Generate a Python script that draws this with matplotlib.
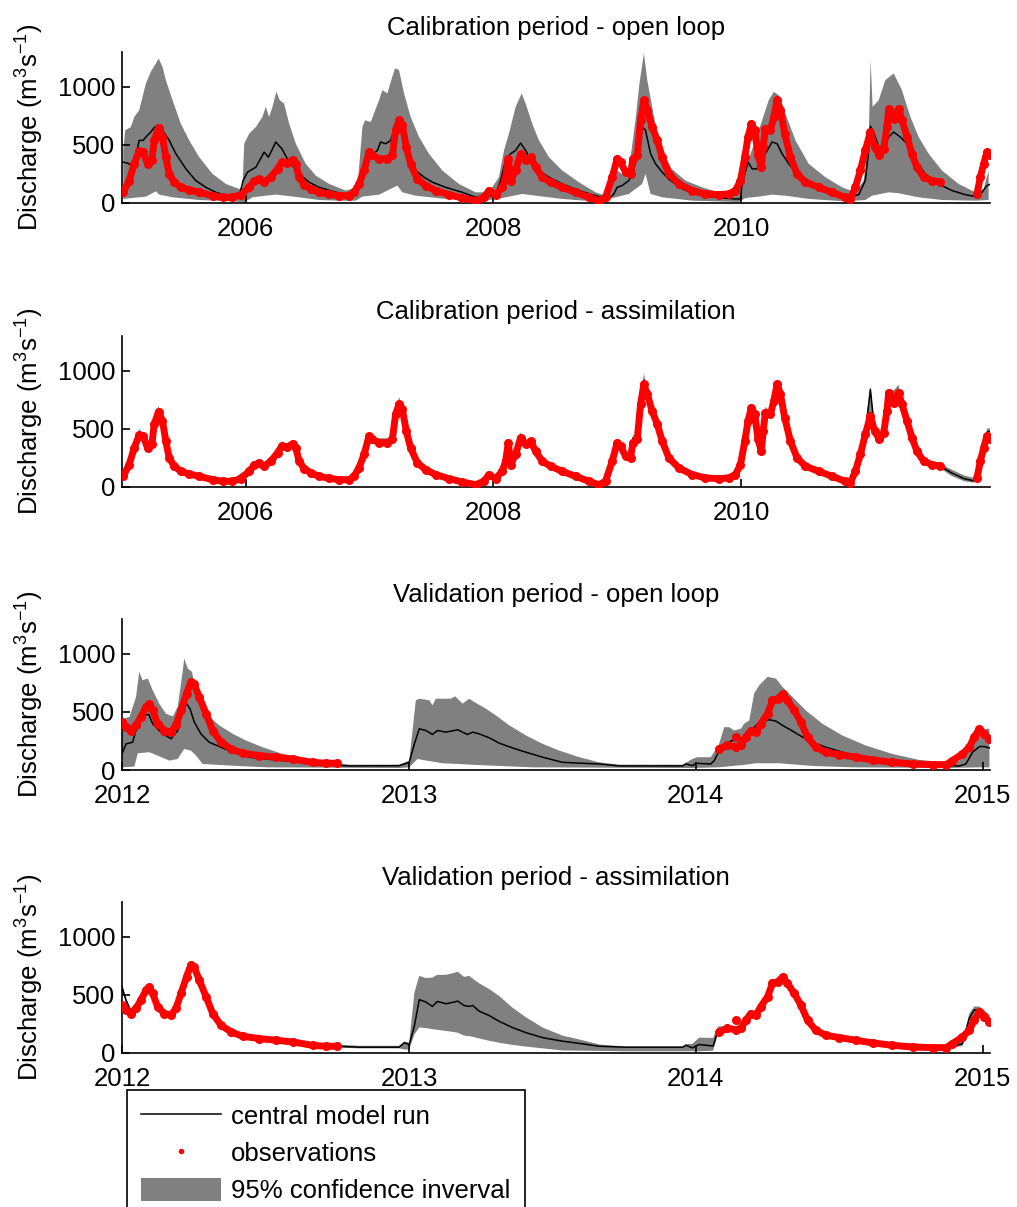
import numpy as np
import matplotlib
matplotlib.use('Agg')
import matplotlib.pyplot as plt
from matplotlib.lines import Line2D
from matplotlib.patches import Patch

plt.rcParams['font.family'] = ['Liberation Sans', 'DejaVu Sans']
plt.rcParams['mathtext.fontset'] = 'custom'
plt.rcParams['mathtext.rm'] = 'Liberation Sans'
plt.rcParams['mathtext.it'] = 'Liberation Sans:italic'

# ---------------- calibration period (2005-2011) ----------------
# observations, shared time axis with the assimilation run (nan = no data)
cal_t = [2005.010, 2005.058, 2005.099, 2005.139, 2005.171, 2005.206, 2005.241, 2005.260, 2005.295, 2005.327,
         2005.354, 2005.381, 2005.422, 2005.475, 2005.543, 2005.623, 2005.731, 2005.812, 2005.892, 2005.960,
         2006.027, 2006.067, 2006.108, 2006.148, 2006.202, 2006.256, 2006.291, 2006.336, 2006.377, 2006.404,
         2006.430, 2006.471, 2006.525, 2006.592, 2006.673, 2006.753, 2006.834, 2006.874, 2006.914, 2006.955,
         2006.995, 2007.022, 2007.076, 2007.143, 2007.183, 2007.210, 2007.237, 2007.264, 2007.296, 2007.331,
         2007.385, 2007.452, 2007.533, 2007.641, 2007.748, 2007.856, 2007.923, 2007.964, 2008.017, 2008.071,
         2008.098, 2008.120, 2008.139, 2008.179, 2008.219, 2008.260, 2008.300, 2008.340, 2008.394, 2008.461,
         2008.555, 2008.663, 2008.771, 2008.851, 2008.905, 2008.959, 2008.999, 2009.026, 2009.067, 2009.107,
         2009.126, 2009.161, 2009.188, 2009.215, 2009.242, 2009.282, 2009.323, 2009.363, 2009.416, 2009.497,
         2009.605, 2009.712, 2009.820, 2009.900, 2009.954, 2009.995, 2010.030, 2010.056, 2010.083, 2010.110,
         2010.137, 2010.164, 2010.178, 2010.196, 2010.237, 2010.264, 2010.291, 2010.318, 2010.352, 2010.398,
         2010.452, 2010.519, 2010.627, 2010.734, 2010.842, 2010.882, 2010.923, 2010.963, 2011.003, 2011.044,
         2011.079, 2011.117, 2011.151, 2011.178, 2011.192, 2011.232, 2011.272, 2011.299, 2011.340, 2011.380,
         2011.420, 2011.474, 2011.542, 2011.609, 2011.700, 2011.800, 2011.870, 2011.905, 2011.932, 2011.959,
         2011.985, 2012.008]
nan = np.nan
cal_obs = [92, 193, 337, 447, 438, 337, 366, 539, 649, 568,
           395, 251, 179, 135, 112, 92, 63, 49, 49, 72,
           135, 187, 208, 179, 222, 294, 352, 343, 372, 337,
           222, 159, 121, 92, 75, 63, 63, 92, 164, 280,
           438, 409, 381, 381, 409, 626, 712, 669, 481, 337,
           208, 150, 107, 72, 43, 20, 49, 107, 72, 135,
           222, 381, 193, 280, 424, 366, 395, 308, 222, 179,
           135, 92, 49, 20, 49, 222, 381, 352, 265, 251,
           381, 409, 712, 885, 799, 654, 539, 395, 251, 164,
           107, 78, 72, 78, 107, 193, 395, 568, 683, 626,
           409, 308, 481, 640, 626, 741, 885, 799, 597, 395,
           251, 179, 135, 92, 49, 35, 135, 280, 453, 611,
           481, 409, 467, 654, 813, 726, 813, 712, 568, 424,
           308, 222, 193, 179, nan, nan, nan, 78, 222, 337,
           438, 409]
cal_da_mid = [110, 193, 337, 447, 438, 337, 366, 539, 660, 568,
              395, 251, 179, 135, 112, 92, 63, 49, 49, 80,
              135, 190, 208, 179, 222, 294, 360, 343, 375, 337,
              222, 159, 121, 92, 75, 63, 63, 100, 180, 280,
              438, 409, 390, 390, 409, 626, 720, 669, 481, 337,
              208, 150, 107, 72, 43, 20, 49, 120, 72, 150,
              222, 381, 193, 280, 430, 366, 395, 308, 222, 179,
              135, 92, 49, 20, 49, 222, 390, 352, 265, 251,
              420, 409, 712, 920, 799, 654, 539, 395, 251, 164,
              107, 78, 72, 78, 107, 250, 395, 568, 683, 626,
              409, 308, 481, 650, 626, 741, 885, 799, 597, 395,
              251, 179, 135, 92, 49, 35, 135, 300, 470, 840,
              481, 409, 467, 654, 813, 760, 813, 712, 568, 424,
              308, 222, 193, 179, 121, 72, 55, 60, 222, 337,
              470, 480]
cal_da_hi = [150, 210, 355, 500, 455, 355, 385, 560, 700, 590,
             415, 270, 195, 150, 127, 107, 78, 62, 62, 120,
             150, 215, 225, 195, 240, 312, 395, 360, 400, 355,
             240, 175, 136, 107, 90, 78, 78, 125, 215, 300,
             460, 428, 420, 420, 430, 650, 775, 690, 500, 355,
             225, 165, 122, 87, 56, 32, 62, 140, 87, 175,
             240, 400, 210, 300, 470, 385, 415, 325, 240, 195,
             150, 107, 62, 32, 62, 240, 420, 370, 285, 270,
             450, 430, 735, 980, 820, 675, 560, 415, 270, 180,
             122, 93, 87, 93, 122, 260, 415, 590, 705, 648,
             430, 325, 500, 690, 648, 765, 905, 820, 618, 415,
             270, 195, 150, 107, 62, 48, 150, 330, 500, 870,
             500, 428, 485, 675, 840, 830, 880, 735, 590, 445,
             325, 240, 210, 200, 150, 100, 80, 85, 240, 355,
             500, 510]
cal_da_lo = [80, 180, 320, 430, 420, 320, 350, 520, 630, 550,
             380, 235, 165, 120, 98, 78, 50, 38, 38, 62,
             120, 175, 192, 165, 205, 278, 340, 328, 355, 320,
             205, 145, 107, 78, 62, 50, 50, 80, 150, 262,
             420, 392, 370, 370, 392, 605, 700, 650, 462, 320,
             192, 136, 94, 60, 32, 10, 38, 95, 60, 125,
             205, 362, 178, 262, 405, 350, 378, 292, 205, 165,
             120, 78, 38, 10, 38, 205, 365, 335, 248, 235,
             365, 392, 690, 870, 780, 635, 520, 378, 235, 150,
             94, 65, 60, 65, 94, 180, 378, 550, 665, 608,
             392, 292, 462, 625, 608, 720, 865, 780, 578, 378,
             235, 165, 120, 78, 38, 25, 120, 262, 435, 600,
             462, 392, 450, 635, 795, 705, 795, 690, 550, 405,
             292, 205, 178, 160, 95, 50, 38, 45, 205, 320,
             420, 400]

# open loop run, central line and 95% band
cal_ol_mid_t = [2005.010, 2005.045, 2005.080, 2005.112, 2005.139, 2005.171, 2005.193, 2005.233, 2005.260, 2005.287,
                2005.327, 2005.381, 2005.435, 2005.516, 2005.596, 2005.677, 2005.758, 2005.839, 2005.950, 2005.978,
                2006.013, 2006.081, 2006.148, 2006.183, 2006.242, 2006.291, 2006.350, 2006.430, 2006.511, 2006.592,
                2006.700, 2006.834, 2006.901, 2006.942, 2006.968, 2007.009, 2007.063, 2007.089, 2007.130, 2007.170,
                2007.197, 2007.224, 2007.251, 2007.278, 2007.318, 2007.372, 2007.439, 2007.507, 2007.614, 2007.748,
                2007.856, 2007.964, 2008.017, 2008.058, 2008.098, 2008.139, 2008.179, 2008.219, 2008.260, 2008.313,
                2008.367, 2008.448, 2008.555, 2008.690, 2008.825, 2008.932, 2008.972, 2008.999, 2009.039, 2009.093,
                2009.134, 2009.174, 2009.201, 2009.228, 2009.269, 2009.309, 2009.363, 2009.416, 2009.524, 2009.631,
                2009.739, 2009.847, 2009.954, 2009.995, 2010.008, 2010.056, 2010.089, 2010.129, 2010.156, 2010.196,
                2010.250, 2010.291, 2010.331, 2010.385, 2010.452, 2010.546, 2010.681, 2010.815, 2010.896, 2010.950,
                2011.003, 2011.030, 2011.044, 2011.071, 2011.111, 2011.151, 2011.192, 2011.232, 2011.286, 2011.340,
                2011.407, 2011.488, 2011.595, 2011.703, 2011.810, 2011.891, 2011.945, 2011.985, 2012.007]
cal_ol_mid = [352, 343, 323, 409, 539, 539, 568, 611, 649, 669,
              626, 539, 424, 294, 193, 135, 92, 63, 70, 193,
              265, 308, 438, 395, 525, 467, 352, 251, 179, 135,
              101, 63, 78, 251, 395, 409, 453, 525, 510, 539,
              626, 712, 669, 481, 366, 280, 222, 179, 135, 92,
              49, 55, 78, 193, 366, 424, 453, 516, 453, 337,
              280, 222, 164, 107, 63, 35, 78, 135, 150, 193,
              280, 539, 654, 626, 424, 337, 265, 205, 121, 78,
              55, 43, 35, 35, 164, 352, 294, 294, 381, 424,
              525, 510, 424, 337, 251, 179, 121, 78, 55, 72,
              193, 453, 660, 611, 481, 481, 568, 611, 568, 510,
              366, 251, 164, 107, 72, 55, 92, 150, 159]
cal_ol_hi_t = [2005.010, 2005.026, 2005.072, 2005.099, 2005.139, 2005.193, 2005.233, 2005.274, 2005.295, 2005.327,
               2005.354, 2005.408, 2005.475, 2005.543, 2005.623, 2005.731, 2005.839, 2005.946, 2005.973, 2005.987,
               2006.027, 2006.081, 2006.134, 2006.161, 2006.188, 2006.215, 2006.247, 2006.274, 2006.309, 2006.350,
               2006.404, 2006.484, 2006.565, 2006.673, 2006.807, 2006.901, 2006.942, 2006.963, 2007.009, 2007.076,
               2007.103, 2007.143, 2007.183, 2007.205, 2007.237, 2007.278, 2007.331, 2007.399, 2007.479, 2007.587,
               2007.721, 2007.856, 2007.937, 2007.990, 2008.044, 2008.085, 2008.125, 2008.179, 2008.228, 2008.260,
               2008.313, 2008.367, 2008.448, 2008.555, 2008.690, 2008.825, 2008.905, 2008.959, 2008.999, 2009.039,
               2009.093, 2009.147, 2009.179, 2009.215, 2009.242, 2009.282, 2009.336, 2009.400, 2009.443, 2009.551,
               2009.685, 2009.820, 2009.954, 2010.003, 2010.056, 2010.116, 2010.170, 2010.223, 2010.264, 2010.304,
               2010.358, 2010.439, 2010.546, 2010.681, 2010.815, 2010.923, 2010.990, 2011.030, 2011.046, 2011.062,
               2011.111, 2011.165, 2011.232, 2011.299, 2011.367, 2011.434, 2011.515, 2011.622, 2011.757, 2011.891,
               2011.959, 2011.999]
cal_ol_hi = [453, 626, 654, 741, 799, 1029, 1130, 1202, 1245, 1173,
             1058, 885, 683, 539, 395, 251, 164, 121, 135, 510,
             597, 654, 741, 827, 741, 827, 957, 885, 856, 683,
             510, 337, 236, 164, 107, 135, 654, 712, 698, 885,
             971, 943, 1087, 1159, 1145, 943, 741, 568, 424, 280,
             164, 92, 92, 135, 222, 453, 597, 827, 943, 856,
             683, 539, 395, 280, 179, 92, 63, 135, 280, 251,
             280, 712, 1029, 1289, 1058, 827, 520, 370, 290, 193,
             135, 92, 63, 308, 366, 539, 712, 885, 957, 928,
             770, 539, 337, 222, 135, 92, 193, 539, 1231, 827,
             885, 1058, 1116, 971, 741, 568, 424, 280, 164, 92,
             121, 280]
cal_ol_lo_t = [2005.010, 2005.193, 2005.274, 2005.300, 2005.408, 2005.623, 2005.892, 2005.987, 2006.054, 2006.161,
               2006.242, 2006.323, 2006.430, 2006.592, 2006.753, 2006.888, 2006.942, 2007.076, 2007.224, 2007.264,
               2007.372, 2007.614, 2007.883, 2008.071, 2008.233, 2008.340, 2008.555, 2008.825, 2008.986, 2009.093,
               2009.201, 2009.228, 2009.269, 2009.363, 2009.605, 2009.982, 2010.035, 2010.143, 2010.250, 2010.358,
               2010.546, 2010.842, 2011.003, 2011.057, 2011.192, 2011.272, 2011.434, 2011.622, 2011.891, 2011.999]
cal_ol_lo = [35, 55, 101, 72, 49, 26, 14, 6, 49, 63,
             72, 63, 49, 26, 20, 20, 55, 72, 150, 92,
             63, 35, 14, 43, 78, 63, 35, 12, 49, 78,
             164, 251, 78, 49, 20, 9, 43, 55, 72, 63,
             35, 14, 26, 63, 92, 84, 49, 26, 20, 26]

# ---------------- validation period (2012-2014) ----------------
val_obs_t = [2012.000, 2012.014, 2012.031, 2012.049, 2012.066, 2012.084, 2012.095, 2012.107, 2012.124, 2012.148,
             2012.171, 2012.188, 2012.206, 2012.225, 2012.240, 2012.252, 2012.269, 2012.293, 2012.316, 2012.345,
             2012.380, 2012.420, 2012.479, 2012.537, 2012.595, 2012.664, 2012.711, 2012.751, 2013.500, 2014.081,
             2014.110, 2014.139, 2014.157, 2014.174, 2014.192, 2014.209, 2014.226, 2014.250, 2014.267, 2014.285,
             2014.302, 2014.319, 2014.343, 2014.366, 2014.389, 2014.418, 2014.453, 2014.500, 2014.557, 2014.616,
             2014.685, 2014.755, 2014.825, 2014.872, 2014.894, 2014.929, 2014.953, 2014.970, 2014.988, 2015.005,
             2015.023]
val_obs = [412, 369, 340, 384, 456, 542, 565, 513, 398, 340,
           326, 384, 513, 658, 758, 738, 629, 485, 340, 239,
           182, 144, 124, 110, 95, 66, 58, 58, nan, 182,
           211, 202, 211, 283, 340, 326, 398, 485, 600, 614,
           652, 600, 513, 412, 283, 196, 153, 133, 110, 87,
           66, 52, 46, 46, 81, 138, 196, 283, 355, 311,
           268]
val_obs_single_t = [2014.141]
val_obs_single = [283]

val_ol_mid_t = [2012.000, 2012.014, 2012.037, 2012.055, 2012.066, 2012.078, 2012.093, 2012.107, 2012.130, 2012.153,
                2012.171, 2012.194, 2012.211, 2012.225, 2012.237, 2012.252, 2012.275, 2012.304, 2012.339, 2012.386,
                2012.444, 2012.502, 2012.560, 2012.641, 2012.711, 2012.792, 2012.966, 2013.001, 2013.019, 2013.036,
                2013.059, 2013.082, 2013.099, 2013.129, 2013.158, 2013.170, 2013.187, 2013.204, 2013.222, 2013.245,
                2013.280, 2013.315, 2013.361, 2013.408, 2013.466, 2013.535, 2013.605, 2013.663, 2013.733, 2013.954,
                2013.965, 2013.988, 2014.000, 2014.052, 2014.064, 2014.081, 2014.099, 2014.128, 2014.157, 2014.186,
                2014.209, 2014.232, 2014.255, 2014.279, 2014.302, 2014.337, 2014.372, 2014.407, 2014.453, 2014.523,
                2014.592, 2014.662, 2014.755, 2014.872, 2014.918, 2014.941, 2014.964, 2014.988, 2015.005, 2015.023]
val_ol_mid = [138, 225, 239, 398, 499, 470, 479, 398, 340, 297,
              268, 340, 513, 571, 528, 412, 311, 239, 202, 153,
              110, 95, 81, 66, 46, 35, 37, 66, 225, 355,
              340, 306, 340, 326, 340, 346, 326, 306, 326, 311,
              277, 231, 190, 153, 110, 66, 58, 52, 35, 35,
              52, 37, 58, 52, 81, 167, 225, 254, 268, 311,
              384, 412, 433, 421, 384, 335, 283, 239, 196, 144,
              110, 81, 52, 37, 35, 52, 153, 202, 202, 190]
val_ol_hi_t = [2012.000, 2012.026, 2012.049, 2012.060, 2012.072, 2012.090, 2012.107, 2012.130, 2012.153, 2012.177,
               2012.194, 2012.209, 2012.217, 2012.229, 2012.244, 2012.258, 2012.281, 2012.304, 2012.339, 2012.386,
               2012.432, 2012.490, 2012.560, 2012.641, 2012.734, 2012.792, 2012.966, 2013.001, 2013.024, 2013.036,
               2013.071, 2013.082, 2013.094, 2013.146, 2013.161, 2013.187, 2013.210, 2013.228, 2013.268, 2013.303,
               2013.350, 2013.408, 2013.466, 2013.524, 2013.594, 2013.663, 2013.733, 2013.954, 2013.988, 2014.005,
               2014.052, 2014.081, 2014.099, 2014.116, 2014.133, 2014.157, 2014.168, 2014.186, 2014.203, 2014.221,
               2014.250, 2014.279, 2014.302, 2014.337, 2014.383, 2014.441, 2014.511, 2014.592, 2014.685, 2014.778,
               2014.872, 2014.918, 2014.953, 2014.976, 2015.023]
val_ol_hi = [441, 456, 629, 845, 773, 787, 686, 571, 485, 461,
             542, 802, 960, 874, 845, 658, 542, 461, 384, 311,
             254, 196, 138, 95, 66, 46, 46, 81, 600, 614,
             600, 557, 614, 614, 634, 571, 614, 585, 528, 470,
             384, 297, 225, 167, 110, 66, 46, 46, 95, 110,
             110, 225, 369, 369, 340, 355, 398, 427, 658, 730,
             802, 787, 715, 629, 513, 398, 297, 211, 138, 87,
             66, 81, 225, 355, 355]
val_ol_lo_t = [2012.000, 2012.043, 2012.055, 2012.095, 2012.124, 2012.165, 2012.194, 2012.217, 2012.240, 2012.258,
               2012.281, 2012.386, 2012.502, 2012.966, 2013.001, 2013.030, 2013.047, 2013.117, 2013.292, 2013.431,
               2013.988, 2014.081, 2014.174, 2014.209, 2014.290, 2014.407, 2014.546, 2014.872, 2014.988, 2015.023]
val_ol_lo = [23, 29, 144, 153, 124, 81, 95, 182, 167, 124,
             52, 37, 23, 17, 23, 95, 87, 58, 37, 23,
             17, 23, 46, 58, 58, 35, 23, 17, 23, 23]

# assimilation run: central line and band on one time axis
val_da_t = [2012.000, 2012.014, 2012.031, 2012.049, 2012.066, 2012.084, 2012.095, 2012.107, 2012.124, 2012.148,
            2012.171, 2012.188, 2012.206, 2012.225, 2012.240, 2012.252, 2012.269, 2012.293, 2012.316, 2012.345,
            2012.380, 2012.420, 2012.479, 2012.537, 2012.595, 2012.664, 2012.711, 2012.751, 2012.827, 2012.966,
            2012.984, 2013.001, 2013.019, 2013.036, 2013.059, 2013.082, 2013.099, 2013.129, 2013.158, 2013.170,
            2013.192, 2013.210, 2013.222, 2013.245, 2013.280, 2013.315, 2013.361, 2013.408, 2013.466, 2013.535,
            2013.605, 2013.663, 2013.756, 2013.954, 2013.965, 2013.988, 2014.011, 2014.060, 2014.078, 2014.110,
            2014.139, 2014.157, 2014.174, 2014.192, 2014.209, 2014.226, 2014.250, 2014.267, 2014.285, 2014.302,
            2014.319, 2014.343, 2014.366, 2014.389, 2014.418, 2014.453, 2014.500, 2014.557, 2014.616, 2014.685,
            2014.755, 2014.825, 2014.872, 2014.894, 2014.929, 2014.953, 2014.970, 2014.988, 2015.005, 2015.023]
val_da_mid = [570, 453, 360, 400, 470, 542, 565, 513, 398, 340,
              326, 384, 513, 680, 740, 720, 629, 485, 340, 239,
              182, 144, 124, 110, 95, 66, 58, 58, 50, 50,
              88, 73, 234, 459, 439, 401, 444, 424, 439, 447,
              409, 401, 409, 360, 322, 272, 219, 175, 132, 102,
              79, 58, 50, 50, 67, 44, 73, 60, 200, 211,
              202, 211, 283, 340, 326, 398, 485, 600, 614, 640,
              600, 513, 412, 283, 196, 153, 133, 110, 87, 66,
              52, 46, 46, 60, 80, 300, 370, 375, 340, 300]
val_da_hi = [590, 475, 380, 420, 490, 560, 585, 533, 418, 358,
             345, 403, 535, 700, 760, 740, 650, 505, 358, 256,
             198, 160, 140, 125, 110, 80, 72, 72, 62, 62,
             100, 88, 520, 664, 645, 650, 673, 673, 690, 700,
             655, 664, 640, 600, 550, 490, 390, 307, 219, 150,
             110, 73, 55, 55, 75, 79, 132, 130, 230, 230,
             222, 230, 300, 360, 345, 418, 505, 620, 635, 660,
             620, 533, 432, 300, 212, 168, 148, 125, 101, 80,
             65, 58, 58, 75, 100, 340, 400, 400, 370, 330]
val_da_lo = [545, 430, 340, 380, 450, 525, 545, 495, 380, 322,
             310, 366, 495, 660, 720, 700, 610, 465, 322, 222,
             166, 130, 110, 96, 82, 54, 46, 46, 40, 40,
             30, 29, 160, 220, 215, 205, 200, 190, 180, 175,
             150, 145, 140, 125, 105, 88, 70, 55, 40, 22,
             20, 18, 15, 15, 15, 15, 15, 20, 170, 195,
             185, 195, 265, 322, 310, 380, 465, 580, 595, 620,
             580, 495, 394, 265, 180, 138, 118, 96, 74, 54,
             40, 35, 35, 45, 60, 270, 340, 345, 310, 270]

GREY = '#808080'
RED = '#ff0000'
FS = 18.5


def band(ax, t_hi, q_hi, t_lo, q_lo):
    xs = np.concatenate([t_hi, t_lo[::-1]])
    ys = np.concatenate([q_hi, q_lo[::-1]])
    ax.fill(xs, ys, color=GREY, lw=0, zorder=1)


def panel(ax, title, xlim, xticks):
    ax.set_xlim(xlim)
    ax.set_ylim(0, 1300)
    ax.set_xticks(xticks)
    ax.set_xticklabels([str(x) for x in xticks])
    ax.set_yticks([0, 500, 1000])
    ax.spines['top'].set_visible(False)
    ax.spines['right'].set_visible(False)
    for s in ['left', 'bottom']:
        ax.spines[s].set_linewidth(1.2)
    ax.tick_params(axis='both', direction='in', length=6, width=1.2, labelsize=FS)
    ax.tick_params(axis='x', pad=10)
    ax.tick_params(axis='y', pad=5)
    ax.set_title(title, fontsize=FS, pad=12)
    ax.set_ylabel('Discharge (m$^3$s$^{-1}$)', fontsize=FS, labelpad=8)


def obs_line(ax, t, q):
    ax.plot(t, q, color=RED, lw=5, solid_capstyle='round', zorder=3)
    ax.plot(t, q, 'o', color=RED, ms=6.5, mec='none', zorder=3)


fig = plt.figure(figsize=(10.17, 12.07), dpi=100)
left, width, height = 122 / 1017, 868 / 1017, 151 / 1207
bottoms = [1 - 203 / 1207, 1 - 487 / 1207, 1 - 770 / 1207, 1 - 1053 / 1207]
axs = [fig.add_axes([left, b, width, height]) for b in bottoms]

cal_t = np.array(cal_t)
val_da_t = np.array(val_da_t)

# calibration - open loop
ax = axs[0]
band(ax, np.array(cal_ol_hi_t), np.array(cal_ol_hi), np.array(cal_ol_lo_t), np.array(cal_ol_lo))
ax.plot(cal_ol_mid_t, cal_ol_mid, color='black', lw=1.1, zorder=2)
obs_line(ax, cal_t, cal_obs)
panel(ax, 'Calibration period - open loop', (2005.0, 2012.01), [2006, 2008, 2010])

# calibration - assimilation
ax = axs[1]
band(ax, cal_t, np.array(cal_da_hi), cal_t, np.array(cal_da_lo))
ax.plot(cal_t, cal_da_mid, color='black', lw=1.1, zorder=2)
obs_line(ax, cal_t, cal_obs)
panel(ax, 'Calibration period - assimilation', (2005.0, 2012.01), [2006, 2008, 2010])

# validation - open loop
ax = axs[2]
band(ax, np.array(val_ol_hi_t), np.array(val_ol_hi), np.array(val_ol_lo_t), np.array(val_ol_lo))
ax.plot(val_ol_mid_t, val_ol_mid, color='black', lw=1.1, zorder=2)
obs_line(ax, val_obs_t, val_obs)
ax.plot(val_obs_single_t, val_obs_single, 'o', color=RED, ms=6.5, mec='none', zorder=3)
panel(ax, 'Validation period - open loop', (2012.0, 2015.025), [2012, 2013, 2014, 2015])

# validation - assimilation
ax = axs[3]
band(ax, val_da_t, np.array(val_da_hi), val_da_t, np.array(val_da_lo))
ax.plot(val_da_t, val_da_mid, color='black', lw=1.1, zorder=2)
obs_line(ax, val_obs_t, val_obs)
ax.plot(val_obs_single_t, val_obs_single, 'o', color=RED, ms=6.5, mec='none', zorder=3)
panel(ax, 'Validation period - assimilation', (2012.0, 2015.025), [2012, 2013, 2014, 2015])

handles = [Line2D([], [], color='black', lw=1.1),
           Line2D([], [], color=RED, marker='o', ls='none', ms=4, mec='none'),
           Patch(facecolor=GREY, edgecolor='none')]
labels = ['central model run', 'observations', '95% confidence inverval']
leg = fig.legend(handles, labels, loc='upper left', bbox_to_anchor=(127 / 1017, 1 - 1090 / 1207),
                 fontsize=FS, frameon=True, fancybox=False, framealpha=1, edgecolor='black',
                 handlelength=3.1, handleheight=1.0, handletextpad=0.4, labelspacing=0.45,
                 borderpad=0.55, borderaxespad=0)
leg.get_frame().set_linewidth(1.2)

fig.savefig('out.png', dpi=100)
